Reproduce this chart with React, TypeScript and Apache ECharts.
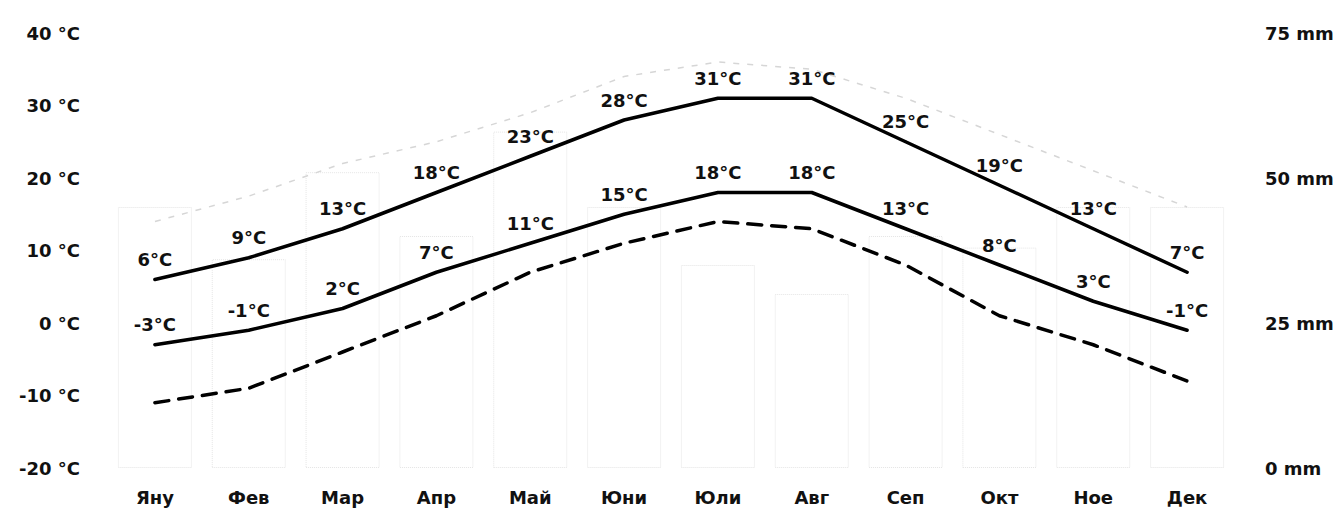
import React, { useEffect, useRef } from "react";
import * as echarts from "echarts";

const months = ["Яну", "Фев", "Мар", "Апр", "Май", "Юни", "Юли", "Авг", "Сеп", "Окт", "Ное", "Дек"];
const maxTemp = [6, 9, 13, 18, 23, 28, 31, 31, 25, 19, 13, 7];
const minTemp = [-3, -1, 2, 7, 11, 15, 18, 18, 13, 8, 3, -1];
const recordHigh = [14, 17.5, 22, 25, 29, 34, 36, 35, 31, 26, 21, 16];
const recordLow = [-11, -9, -4, 1, 7, 11, 14, 13, 8, 1, -3, -8];
const precipitation = [45, 36, 51, 40, 58, 45, 35, 30, 40, 38, 45, 45];

const FONT = "'DejaVu Sans', Verdana, sans-serif";

export default function App() {
  const ref = useRef<HTMLDivElement>(null);

  useEffect(() => {
    if (!ref.current) return;
    const chart = echarts.init(ref.current, undefined, { renderer: "svg" });
    const labelStyle = {
      show: true,
      position: "top" as const,
      distance: 10,
      formatter: "{c}°C",
      color: "#111",
      fontFamily: FONT,
      fontWeight: "bold" as const,
      fontSize: 18,
    };
    const hiddenSymbol = {
      symbol: "circle",
      symbolSize: 2,
      showSymbol: true,
      itemStyle: { color: "#000" },
    };
    chart.setOption({
      animation: false,
      backgroundColor: "#fff",
      grid: { left: 108, right: 108, top: 33, bottom: 40 },
      xAxis: {
        type: "category",
        data: months,
        boundaryGap: true,
        axisLine: { show: false },
        axisTick: { show: false },
        splitLine: { show: false },
        axisLabel: {
          margin: 20,
          color: "#111",
          fontFamily: FONT,
          fontWeight: "bold",
          fontSize: 18,
        },
      },
      yAxis: [
        {
          type: "value",
          min: -20,
          max: 40,
          interval: 10,
          axisLine: { show: false },
          axisTick: { show: false },
          splitLine: { show: false },
          axisLabel: {
            formatter: "{value} °C",
            margin: 28,
            color: "#111",
            fontFamily: FONT,
            fontWeight: "bold",
            fontSize: 18,
          },
        },
        {
          type: "value",
          min: 0,
          max: 75,
          interval: 25,
          position: "right",
          axisLine: { show: false },
          axisTick: { show: false },
          splitLine: { show: false },
          axisLabel: {
            formatter: "{value} mm",
            margin: 31,
            align: "left",
            color: "#111",
            fontFamily: FONT,
            fontWeight: "bold",
            fontSize: 18,
          },
        },
      ],
      series: [
        {
          name: "Валежи",
          type: "bar",
          yAxisIndex: 1,
          data: precipitation,
          barWidth: 74,
          z: 1,
          itemStyle: {
            color: "rgba(0,0,0,0)",
            borderColor: "#e4e4e4",
            borderWidth: 1,
            borderType: "dotted",
          },
        },
        {
          name: "Рекорд макс",
          type: "line",
          data: recordHigh,
          symbol: "none",
          z: 2,
          lineStyle: { color: "#d6d6d6", width: 1.5, type: [6, 8] },
        },
        {
          name: "Рекорд мин",
          type: "line",
          data: recordLow,
          symbol: "none",
          z: 3,
          lineStyle: { color: "#000", width: 3.5, type: [14, 10], cap: "round" },
        },
        {
          name: "Макс",
          type: "line",
          data: maxTemp,
          ...hiddenSymbol,
          z: 4,
          lineStyle: { color: "#000", width: 3.5, cap: "round" },
          label: labelStyle,
        },
        {
          name: "Мин",
          type: "line",
          data: minTemp,
          ...hiddenSymbol,
          z: 4,
          lineStyle: { color: "#000", width: 3.5, cap: "round" },
          label: labelStyle,
        },
      ],
    });
    return () => chart.dispose();
  }, []);

  return (
    <div
      ref={ref}
      style={{ position: "absolute", left: 0, top: 0, width: 1342, height: 508, background: "#fff" }}
    />
  );
}
